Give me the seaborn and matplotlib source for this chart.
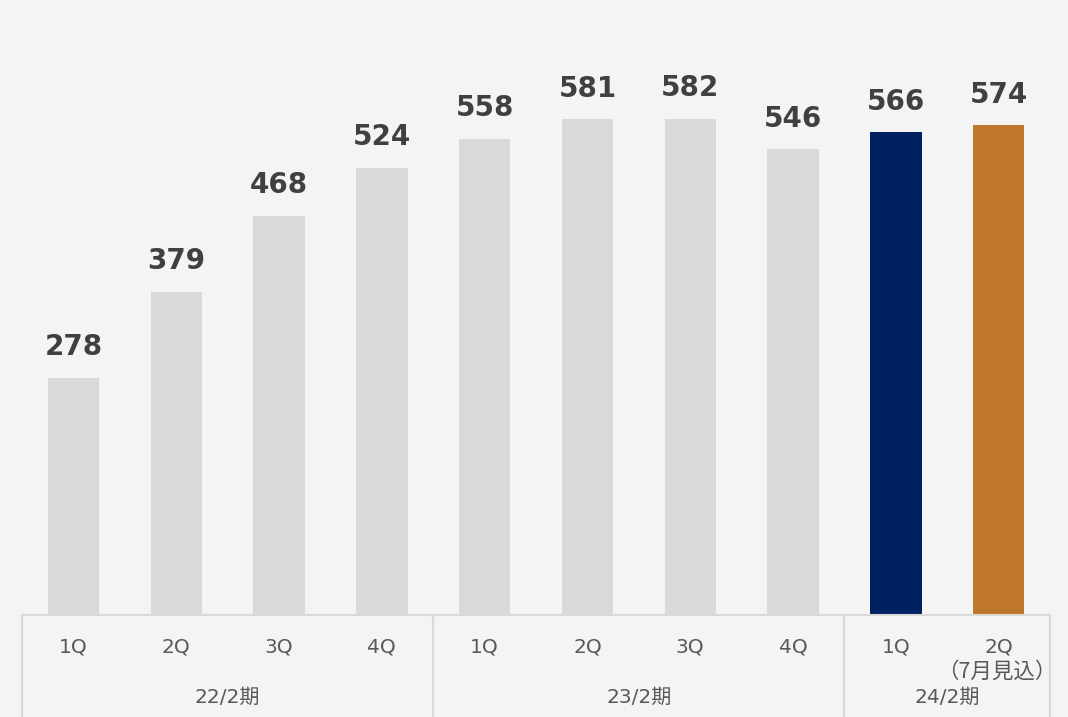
import pandas as pd
import seaborn as sns
import matplotlib.pyplot as plt
from matplotlib.transforms import blended_transform_factory

# data
quarters = ['1Q', '2Q', '3Q', '4Q', '1Q', '2Q', '3Q', '4Q', '1Q', '2Q']
periods = ['22/2期', '23/2期', '24/2期']
period_sizes = [4, 4, 2]
values = [278, 379, 468, 524, 558, 581, 582, 546, 566, 574]
bar_colors = ['#d9d9d9'] * 8 + ['#002060', '#bf782b']
note = '（7月見込）'

bg = '#f4f4f4'
txt = '#595959'
line_c = '#d9d9d9'

sns.set_theme(style='white')
plt.rcParams['font.family'] = ['DejaVu Sans', 'Noto Sans CJK JP']

df = pd.DataFrame({'slot': [f's{i}' for i in range(len(values))],
                   'value': values})

fig = plt.figure(figsize=(10.68, 7.17), dpi=100, facecolor=bg)
ax = fig.add_axes([22 / 1068, 102 / 717, 1028 / 1068, 615 / 717])
ax.set_facecolor(bg)

sns.barplot(data=df, x='slot', y='value', hue='slot', palette=bar_colors,
            width=0.5, legend=False, ax=ax, saturation=1, linewidth=0)

ax.set_xlim(-0.5, len(values) - 0.5)
ax.set_ylim(0, 721)
ax.set_xticks([])
ax.set_yticks([])
ax.set_xlabel('')
ax.set_ylabel('')
for s in ['top', 'left', 'right']:
    ax.spines[s].set_visible(False)
ax.spines['bottom'].set_color(line_c)
ax.spines['bottom'].set_linewidth(1.5)

for i, v in enumerate(values):
    ax.annotate(str(v), (i, v), xytext=(0, 12), textcoords='offset points',
                ha='center', va='bottom', fontsize=20, fontweight='bold',
                color='#404040')

# category table under the bars
tr = blended_transform_factory(ax.transData, ax.transAxes)
low = -102 / 615
q_y = -32 / 615
p_y = -82 / 615

for i, q in enumerate(quarters):
    ax.text(i, q_y, q, transform=tr, ha='center', va='center',
            fontsize=14.5, color=txt)
ax.text(8.98, -57 / 615, note, transform=tr, ha='center', va='center',
        fontsize=15.5, color=txt, family=['Noto Sans CJK JP', 'DejaVu Sans'])

start = 0
edges = [-0.5]
for p, n in zip(periods, period_sizes):
    mid = start + (n - 1) / 2
    ax.text(mid, p_y, p, transform=tr, ha='center', va='center',
            fontsize=14.5, color=txt)
    start += n
    edges.append(start - 0.5)

for e in edges:
    ax.plot([e, e], [0, low], transform=tr, color=line_c, lw=1.5,
            clip_on=False)

fig.savefig('out.png', dpi=100, facecolor=bg)
